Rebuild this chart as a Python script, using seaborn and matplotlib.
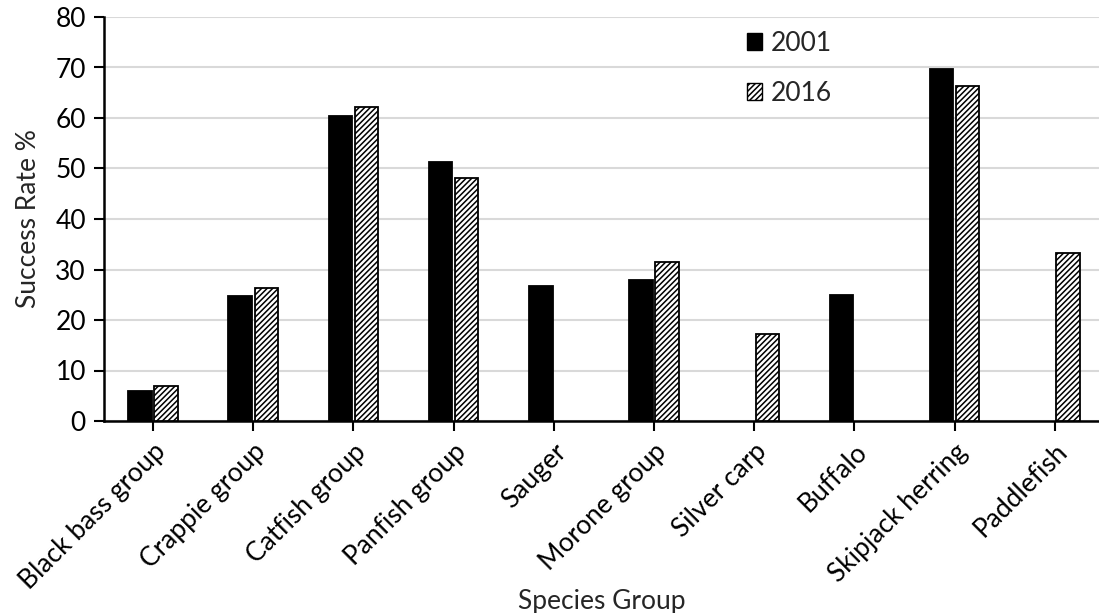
import numpy as np
import pandas as pd
import matplotlib
matplotlib.use("Agg")
import matplotlib.pyplot as plt
from matplotlib.patches import Patch
import seaborn as sns

categories = ["Black bass group", "Crappie group", "Catfish group", "Panfish group",
              "Sauger", "Morone group", "Silver carp", "Buffalo",
              "Skipjack herring", "Paddlefish"]
vals_2001 = [5.9, 24.8, 60.3, 51.2, 26.7, 28.0, np.nan, 25.0, 69.8, np.nan]
vals_2016 = [6.9, 26.3, 62.2, 48.1, np.nan, 31.5, 17.2, np.nan, 66.3, 33.3]
years = ["2001", "2016"]
y_ticks = [0, 10, 20, 30, 40, 50, 60, 70, 80]

df = pd.DataFrame({
    "Species": categories * 2,
    "Year": [years[0]] * len(categories) + [years[1]] * len(categories),
    "Rate": vals_2001 + vals_2016,
})

sns.set_style("white")
plt.rcParams["font.family"] = ["Lato", "DejaVu Sans"]
plt.rcParams["hatch.linewidth"] = 1.1
plt.rcParams["hatch.color"] = "#222222"

fig = plt.figure(figsize=(10.99, 6.13), dpi=100)
ax = fig.add_axes([104 / 1099, 1 - 421 / 613, 1 - 104 / 1099, (421 - 17) / 613])

sns.barplot(data=df, x="Species", y="Rate", hue="Year", hue_order=years,
            order=categories, palette=["black", "white"], width=0.52, gap=0.1,
            errorbar=None, edgecolor="black", linewidth=1.3, ax=ax, legend=False,
            zorder=3)

for bar in ax.containers[1]:
    bar.set_hatch("//////")
    bar.set_edgecolor("black")
    bar.set_facecolor("white")

ax.set_ylim(0, 80)
ax.set_xlim(-0.489, 9.44)
ax.set_yticks(y_ticks)
ax.yaxis.grid(True, color="#d9d9d9", linewidth=1.5, zorder=0)
ax.set_axisbelow(True)

for s in ["top", "right"]:
    ax.spines[s].set_visible(False)
for s in ["left", "bottom"]:
    ax.spines[s].set_color("black")
    ax.spines[s].set_linewidth(1.8)

ax.tick_params(axis="both", direction="out", length=7, width=1.5, color="black",
               labelsize=19, labelcolor="black", pad=6, left=True, bottom=True)
ax.set_xticks(range(len(categories)))
ax.set_xticklabels(categories, rotation=45, ha="right", rotation_mode="anchor")

ax.set_ylabel("Success Rate %", fontsize=19, labelpad=10)
ax.set_xlabel("Species Group", fontsize=19, labelpad=-4)

handles = [Patch(facecolor="black", edgecolor="black", label="2001"),
           Patch(facecolor="white", edgecolor="black", hatch="//////", label="2016")]
ax.legend(handles=handles, loc="upper left", bbox_to_anchor=(0.622, 1.025),
          frameon=False, fontsize=19, handlelength=0.6, handleheight=0.6,
          handletextpad=0.3, labelspacing=0.95)

fig.savefig("out.png", dpi=100)
